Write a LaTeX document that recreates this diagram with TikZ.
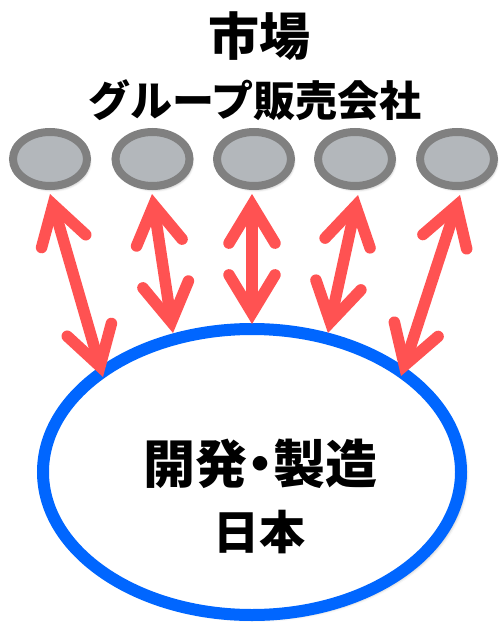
\documentclass[tikz,border=0pt]{standalone}
\usepackage{fontspec}
\newfontfamily\jp{Noto Sans CJK JP}
\usetikzlibrary{arrows.meta,shapes.geometric,shadows.blur}
\definecolor{arrred}{RGB}{255,82,82}
\definecolor{ringblue}{RGB}{0,102,255}
\definecolor{mgray}{RGB}{128,128,128}
\definecolor{mfill}{RGB}{179,183,187}
\tikzset{
  market/.style={ellipse, draw=mgray, fill=mfill, line width=8pt, inner sep=0pt,
    minimum width=74pt, minimum height=54pt,
    blur shadow={shadow xshift=2pt, shadow yshift=-3pt, shadow blur radius=3pt, shadow opacity=45}},
  hub/.style={ellipse, draw=ringblue, fill=white, line width=12pt, inner sep=0pt,
    minimum width=418pt, minimum height=286pt,
    blur shadow={shadow xshift=4pt, shadow yshift=-3pt, shadow blur radius=4pt, shadow opacity=45}},
  barb/.tip={Straight Barb[length=38pt, width=46pt, line width=0pt 1, line cap=round, line join=miter]},
  link/.style={draw=arrred, line width=11.5pt, barb-barb},
  lbl/.style={font=\jp\bfseries, text=black, inner sep=0pt}
}
\begin{document}
\begin{tikzpicture}[x=1pt,y=-1pt]
\useasboundingbox (0,0) rectangle (500,623);
% market companies
\node[market] (m1) at (50,159) {};
\node[market] (m2) at (152.5,159) {};
\node[market] (m3) at (254,159) {};
\node[market] (m4) at (355,159) {};
\node[market] (m5) at (457,159) {};
% development & manufacturing
\node[hub] (h) at (252,472) {};
% titles
\node[lbl, font=\jp\bfseries\fontsize{51}{51}\selectfont] (title) at (259,36) {市場};
\node[lbl, font=\jp\bfseries\fontsize{42}{42}\selectfont] (sub) at (255,100) {グループ販売会社};
\node[lbl, font=\jp\bfseries\fontsize{52}{52}\selectfont] (dev) at (260,464) {開発\kern-0.25em・\kern-0.25em製造};
\node[lbl, font=\jp\bfseries\fontsize{46}{46}\selectfont] (jpn) at (259,532) {日本};
% arrow ends
\coordinate (t1) at (50,194);   \coordinate (b1) at (103,377);
\coordinate (t2) at (152,194);  \coordinate (b2) at (173,333);
\coordinate (t3) at (252,194);  \coordinate (b3) at (252,324);
\coordinate (t4) at (358,195);  \coordinate (b4) at (328,333);
\coordinate (t5) at (460,195);  \coordinate (b5) at (401,376);
\foreach \i in {1,...,5} { \draw[link] (t\i) -- (b\i); }
\end{tikzpicture}
\end{document}
